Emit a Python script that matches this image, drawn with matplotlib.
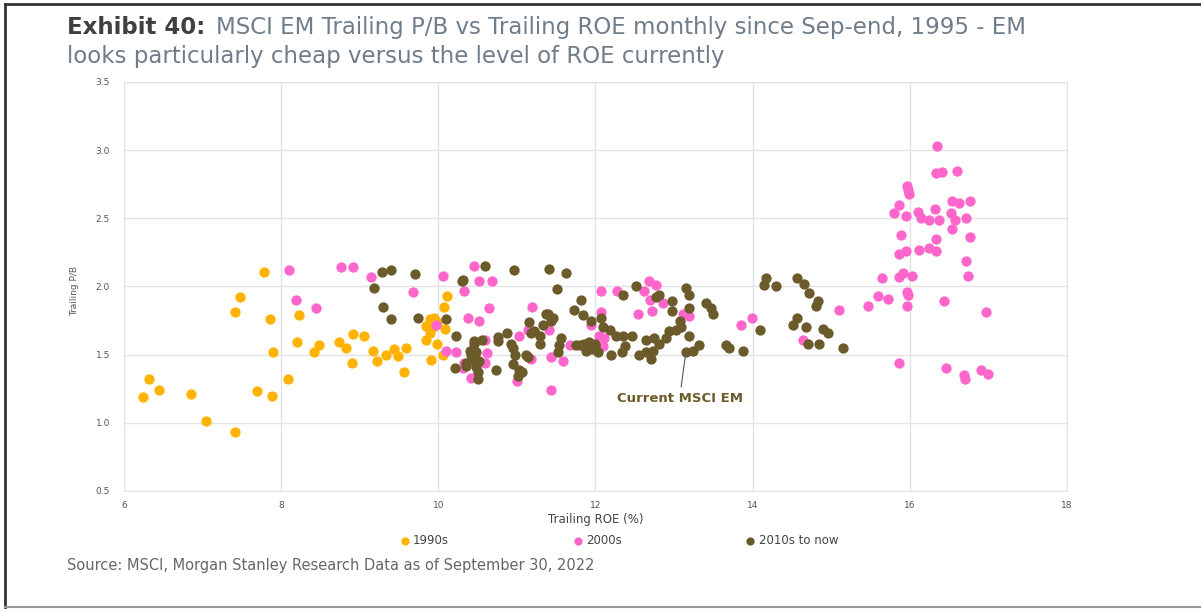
import matplotlib
matplotlib.use("Agg")
import matplotlib.pyplot as plt
from matplotlib.lines import Line2D

# 1990s
roe_1990s = [6.24, 6.32, 6.45, 6.85, 7.05, 7.41, 7.69, 7.88, 8.09, 7.78,
             7.48, 7.41, 7.86, 8.23, 8.20, 7.90, 8.48, 8.42, 8.74, 8.83,
             8.92, 9.06, 8.90, 9.17, 9.22, 9.33, 9.44, 9.49, 9.59, 9.57,
             9.91, 10.06, 9.99, 9.85, 9.89, 10.08, 9.85, 9.89, 9.99, 9.95,
             10.07, 10.11, 9.93]
pb_1990s = [1.19, 1.32, 1.24, 1.21, 1.01, 0.93, 1.23, 1.20, 1.32, 2.11,
            1.92, 1.81, 1.76, 1.79, 1.59, 1.52, 1.57, 1.52, 1.59, 1.55,
            1.65, 1.64, 1.44, 1.53, 1.45, 1.50, 1.54, 1.49, 1.55, 1.37,
            1.46, 1.50, 1.58, 1.61, 1.66, 1.69, 1.71, 1.76, 1.74, 1.77,
            1.85, 1.93, 1.70]

# 2000s
roe_2000s = [8.10, 8.76, 8.91, 9.14, 8.19, 8.44, 9.68, 10.06, 9.97, 10.10,
             10.45, 10.52, 10.68, 10.33, 10.65, 11.19, 10.38, 10.52, 10.60, 11.03,
             11.41, 10.23, 10.62, 10.33, 10.41, 11.18, 11.43, 11.59, 11.00, 11.44,
             10.59, 10.31, 11.14,
             12.07, 12.28, 12.68, 12.77, 12.62, 12.69, 12.86, 12.07, 12.54, 12.72,
             13.11, 13.19, 11.94, 12.05, 12.11, 11.67, 12.09, 13.85, 13.99,
             14.64, 15.10, 15.47, 15.59, 15.72, 15.65, 15.86, 15.91, 16.03, 15.97,
             15.98, 15.97, 16.44, 16.97, 15.86, 16.46, 16.69, 16.70, 16.91, 16.99,
             16.35, 16.33, 16.41, 16.60, 15.97, 15.98, 15.99, 15.86, 15.80, 15.95,
             16.10, 16.14, 16.32, 16.25, 16.37, 16.54, 16.63, 16.77, 16.52, 16.58,
             16.71, 16.54, 16.77, 15.89, 16.33, 15.86, 15.95, 16.12, 16.25, 16.33,
             16.71, 16.74]
pb_2000s = [2.12, 2.14, 2.14, 2.07, 1.90, 1.84, 1.96, 2.08, 1.72, 1.53,
            2.15, 2.04, 2.04, 1.97, 1.84, 1.85, 1.77, 1.75, 1.61, 1.64,
            1.68, 1.52, 1.51, 1.44, 1.33, 1.47, 1.48, 1.45, 1.31, 1.24,
            1.44, 1.40, 1.68,
            1.97, 1.97, 2.04, 2.01, 1.97, 1.90, 1.88, 1.81, 1.80, 1.82,
            1.80, 1.78, 1.72, 1.64, 1.62, 1.57, 1.56, 1.72, 1.77,
            1.61, 1.83, 1.86, 1.93, 1.91, 2.06, 2.07, 2.10, 2.08, 1.96,
            1.94, 1.86, 1.89, 1.81, 1.44, 1.40, 1.35, 1.32, 1.39, 1.36,
            3.03, 2.83, 2.84, 2.85, 2.74, 2.71, 2.68, 2.60, 2.54, 2.52,
            2.55, 2.50, 2.57, 2.49, 2.49, 2.63, 2.61, 2.63, 2.54, 2.49,
            2.50, 2.42, 2.36, 2.38, 2.35, 2.24, 2.26, 2.27, 2.28, 2.26,
            2.19, 2.08]

# 2010s to now
roe_2010s = [9.29, 9.40, 9.71, 9.18, 9.30, 9.40, 9.74, 10.10, 10.59, 10.96,
             11.41, 11.62, 10.30, 10.32, 11.51, 10.23, 11.73, 10.46, 10.48, 10.42,
             10.52, 10.48, 10.50, 10.21, 10.35, 10.46, 10.55, 10.40, 10.44, 10.35,
             10.50, 10.76, 10.88, 10.76, 10.93, 10.95, 10.97, 10.95, 11.03, 10.74,
             11.12, 11.01, 11.06, 11.14, 11.16, 11.18, 11.29, 11.33, 11.37, 11.46,
             11.39, 11.43, 11.22, 11.56, 11.54, 11.52, 11.29, 11.75, 11.82, 11.84,
             11.94, 12.07, 12.09, 12.18, 12.26, 12.35, 11.86, 11.92, 11.97, 11.88,
             12.03, 11.80, 12.20, 12.34, 12.38, 12.51, 12.35, 12.47, 12.56, 12.64,
             12.71, 12.64, 12.75, 12.73, 12.77, 12.81, 12.98, 12.98, 12.94, 12.90,
             12.81, 13.07, 13.02, 13.09, 13.19, 13.15, 13.19, 13.19, 13.24, 13.32,
             13.41, 13.47, 13.49, 13.66, 13.70, 13.88, 14.10, 14.17, 14.15, 14.30,
             14.57, 14.66, 14.72, 14.83, 14.81, 14.57, 14.51, 14.68, 14.89, 14.96,
             14.70, 14.84, 15.15, 11.90, 11.99, 11.95, 12.00, 13.15]
pb_2010s = [2.11, 2.12, 2.09, 1.99, 1.85, 1.76, 1.77, 1.76, 2.15, 2.12,
            2.13, 2.10, 2.04, 2.05, 1.98, 1.64, 1.83, 1.58, 1.52, 1.50,
            1.45, 1.41, 1.32, 1.40, 1.44, 1.60, 1.61, 1.53, 1.46, 1.42,
            1.37, 1.63, 1.66, 1.60, 1.58, 1.55, 1.50, 1.43, 1.39, 1.39,
            1.50, 1.34, 1.37, 1.48, 1.74, 1.66, 1.64, 1.72, 1.80, 1.77,
            1.80, 1.75, 1.67, 1.62, 1.57, 1.52, 1.58, 1.57, 1.90, 1.79,
            1.75, 1.77, 1.70, 1.68, 1.64, 1.64, 1.58, 1.59, 1.55, 1.53,
            1.52, 1.57, 1.50, 1.52, 1.56, 2.00, 1.94, 1.64, 1.50, 1.52,
            1.47, 1.61, 1.62, 1.53, 1.92, 1.94, 1.89, 1.82, 1.67, 1.62,
            1.58, 1.75, 1.68, 1.70, 1.64, 1.99, 1.94, 1.84, 1.53, 1.57,
            1.88, 1.84, 1.80, 1.57, 1.55, 1.53, 1.68, 2.06, 2.01, 2.00,
            2.06, 2.02, 1.95, 1.89, 1.86, 1.77, 1.72, 1.70, 1.69, 1.66,
            1.58, 1.58, 1.55, 1.57, 1.56, 1.54, 1.58, 1.52]

current_roe, current_pb = 13.15, 1.52

x_ticks = [6, 8, 10, 12, 14, 16, 18]
y_ticks = [0.5, 1.0, 1.5, 2.0, 2.5, 3.0, 3.5]

c_90s = "#FFB300"
c_00s = "#FF66CC"
c_10s = "#6B5A2A"

fig = plt.figure(figsize=(12.01, 6.11), dpi=100)
ax = fig.add_axes([0.1032, 0.1964, 0.7852, 0.6694])

ax.scatter(roe_1990s, pb_1990s, s=55, color=c_90s, linewidths=0, label="1990s", zorder=3)
ax.scatter(roe_2000s, pb_2000s, s=55, color=c_00s, linewidths=0, label="2000s", zorder=3)
ax.scatter(roe_2010s, pb_2010s, s=55, color=c_10s, linewidths=0, label="2010s to now", zorder=3)

ax.set_xlim(6, 18)
ax.set_ylim(0.5, 3.5)
ax.set_xticks(x_ticks)
ax.set_yticks(y_ticks)
ax.set_yticklabels([f"{v:.1f}" for v in y_ticks])
ax.grid(True, color="#e3e3e3", linewidth=1)
ax.set_axisbelow(True)
for sp in ax.spines.values():
    sp.set_color("#e3e3e3")
ax.tick_params(length=0, labelsize=6.5, labelcolor="#555555")
ax.tick_params(axis="y", pad=10)
ax.tick_params(axis="x", pad=7)

ax.set_xlabel("Trailing ROE (%)", fontsize=8.5, color="#444444")
ax.xaxis.set_label_coords(0.5, -0.055)
ax.set_ylabel("Trailing P/B", fontsize=6.5, color="#555555")
ax.yaxis.set_label_coords(-0.048, 0.49)

ax.annotate("Current MSCI EM", xy=(current_roe, current_pb), xytext=(13.07, 1.175),
            fontsize=9.5, fontweight="bold", color=c_10s, ha="center", va="center",
            arrowprops=dict(arrowstyle="-", color="#555555", lw=0.8, shrinkA=2, shrinkB=2))

fig.legend(loc="center", bbox_to_anchor=(0.5155, 0.116), ncol=3, frameon=False,
           fontsize=8.5, labelcolor="#444444", handlelength=0.8, handletextpad=0.3,
           columnspacing=10.5, markerscale=0.8)

# title
t1 = fig.text(0.0558, 0.9355, "Exhibit 40:", fontsize=16.5, fontweight="bold",
              color="#404040", va="bottom")
ax.annotate("MSCI EM Trailing P/B vs Trailing ROE monthly since Sep-end, 1995 - EM",
            xy=(1, 0), xycoords=t1, xytext=(8, 0), textcoords="offset points",
            fontsize=16.5, color="#707d8a", va="bottom", annotation_clip=False)
fig.text(0.0558, 0.8895, "looks particularly cheap versus the level of ROE currently",
         fontsize=16.5, color="#707d8a", va="bottom")

fig.text(0.0558, 0.075, "Source: MSCI, Morgan Stanley Research Data as of September 30, 2022",
         fontsize=10.5, color="#666666", va="center")

# frame around the exhibit
fig.add_artist(Line2D([0.0042, 1], [0.9935, 0.9935], transform=fig.transFigure, color="#333333", lw=2))
fig.add_artist(Line2D([0.0042, 0.0042], [0.0065, 0.9935], transform=fig.transFigure, color="#333333", lw=2))
fig.add_artist(Line2D([0.0042, 1], [0.0065, 0.0065], transform=fig.transFigure, color="#999999", lw=1.5))

fig.savefig("out.png", dpi=100)
